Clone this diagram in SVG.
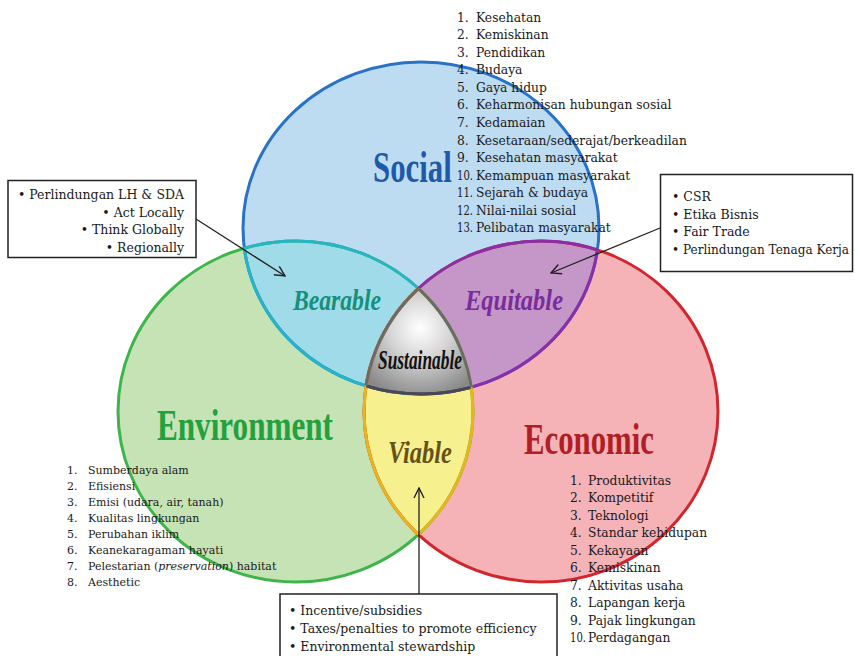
<svg xmlns="http://www.w3.org/2000/svg" width="855" height="656" viewBox="0 0 855 656">
<style>
.lst{font-family:"DejaVu Serif","Liberation Serif",serif;font-size:12.3px;fill:#1a1a1a}
.lsm{font-family:"DejaVu Serif","Liberation Serif",serif;font-size:11px;fill:#1a1a1a}
.bx{font-family:"DejaVu Serif","Liberation Serif",serif;font-size:12.5px;fill:#1a1a1a}
.box{fill:#fff;stroke:#222;stroke-width:1.5}
.big{font-family:"Liberation Serif",serif;font-weight:bold}
.lens{font-family:"Liberation Serif",serif;font-weight:bold;font-style:italic}
.con{stroke:#222;stroke-width:1.3;fill:none}
.st{fill:none;stroke-width:3}
</style>
<defs>
<clipPath id="cS"><ellipse cx="421" cy="228" rx="178" ry="166"/></clipPath>
<clipPath id="cE"><ellipse cx="295.5" cy="411.5" rx="177.5" ry="170.5"/></clipPath>
<clipPath id="cC"><ellipse cx="541" cy="411.5" rx="177" ry="170.5"/></clipPath>
<radialGradient id="gray" cx="420" cy="328" r="72" gradientUnits="userSpaceOnUse">
<stop offset="0" stop-color="#ffffff"/><stop offset="0.4" stop-color="#d8d8d8"/><stop offset="1" stop-color="#888888"/>
</radialGradient>
<marker id="arr" viewBox="0 0 12 12" refX="11" refY="6" markerWidth="12" markerHeight="12" markerUnits="userSpaceOnUse" orient="auto">
<path d="M1,1 L11,6 L1,11" fill="none" stroke="#222" stroke-width="1.4"/>
</marker>
<ellipse id="eS" cx="421" cy="228" rx="178" ry="166"/>
<ellipse id="eE" cx="295.5" cy="411.5" rx="177.5" ry="170.5"/>
<ellipse id="eC" cx="541" cy="411.5" rx="177" ry="170.5"/>
</defs>
<rect width="855" height="656" fill="#ffffff"/>

<g id="social">
<use href="#eS" fill="#bddcf2"/>
</g>
<g id="environment">
<use href="#eE" fill="#c5e3b5"/>
</g>
<g id="economic">
<use href="#eC" fill="#f5b3b8"/>
</g>
<g id="bearable">
<use href="#eE" fill="#9fdbe8" clip-path="url(#cS)"/>
</g>
<g id="equitable">
<use href="#eC" fill="#c597c9" clip-path="url(#cS)"/>
</g>
<g id="viable">
<use href="#eC" fill="#f7f08e" clip-path="url(#cE)"/>
</g>
<g id="sustainable">
<g clip-path="url(#cS)"><g clip-path="url(#cE)"><use href="#eC" fill="url(#gray)"/></g></g>
</g>

<g id="outlines">
<use href="#eS" class="st" stroke="#2a72c8"/>
<use href="#eE" class="st" stroke="#3db54a"/>
<use href="#eC" class="st" stroke="#d3262c"/>
<use href="#eE" class="st" stroke="#27b5c6" clip-path="url(#cS)"/>
<use href="#eS" class="st" stroke="#27b5c6" clip-path="url(#cE)"/>
<use href="#eC" class="st" stroke="#8b2fa8" clip-path="url(#cS)"/>
<use href="#eS" class="st" stroke="#8b2fa8" clip-path="url(#cC)"/>
<use href="#eE" class="st" stroke="#e7b51c" clip-path="url(#cC)"/>
<use href="#eC" class="st" stroke="#e7b51c" clip-path="url(#cE)"/>
<g clip-path="url(#cE)"><use href="#eS" class="st" stroke="#4a4a4a" clip-path="url(#cC)"/></g>
<g clip-path="url(#cS)"><use href="#eE" class="st" stroke="#6a6a6a" stroke-width="2" clip-path="url(#cC)"/></g>
<g clip-path="url(#cS)"><use href="#eC" class="st" stroke="#6a6a6a" stroke-width="2" clip-path="url(#cE)"/></g>
</g>

<g id="labels">
<text class="big" transform="translate(373,182) scale(0.685,1)" font-size="45" fill="#1f5aa8">Social</text>
<text class="big" x="157" y="440" font-size="44" fill="#22a13d" textLength="176" lengthAdjust="spacingAndGlyphs">Environment</text>
<text class="big" x="524" y="454" font-size="44" fill="#b01f26" textLength="130" lengthAdjust="spacingAndGlyphs">Economic</text>
<text class="lens" x="293" y="310" font-size="30" fill="#15907a" textLength="88" lengthAdjust="spacingAndGlyphs">Bearable</text>
<text class="lens" x="465" y="310" font-size="30" fill="#7b2c9c" textLength="98" lengthAdjust="spacingAndGlyphs">Equitable</text>
<text class="lens" x="378" y="369" font-size="28" fill="#111" textLength="84" lengthAdjust="spacingAndGlyphs">Sustainable</text>
<text class="lens" x="388" y="463" font-size="32" fill="#65521a" textLength="64" lengthAdjust="spacingAndGlyphs">Viable</text>
</g>

<g id="social-list" class="lst">
<text x="457" y="21.5">1.<tspan x="476">Kesehatan</tspan></text>
<text x="457" y="39">2.<tspan x="476">Kemiskinan</tspan></text>
<text x="457" y="56.7">3.<tspan x="476">Pendidikan</tspan></text>
<text x="457" y="74.2">4.<tspan x="476">Budaya</tspan></text>
<text x="457" y="91.8">5.<tspan x="476">Gaya hidup</tspan></text>
<text x="457" y="109.4">6.<tspan x="476">Keharmonisan hubungan sosial</tspan></text>
<text x="457" y="127">7.<tspan x="476">Kedamaian</tspan></text>
<text x="457" y="144.5">8.<tspan x="476">Kesetaraan/sederajat/berkeadilan</tspan></text>
<text x="457" y="162.1">9.<tspan x="476">Kesehatan masyarakat</tspan></text>
<text x="457" y="179.7" textLength="16" lengthAdjust="spacingAndGlyphs">10.</text><text x="476" y="179.7">Kemampuan masyarakat</text>
<text x="457" y="197.3" textLength="16" lengthAdjust="spacingAndGlyphs">11.</text><text x="476" y="197.3">Sejarah &amp; budaya</text>
<text x="457" y="214.8" textLength="16" lengthAdjust="spacingAndGlyphs">12.</text><text x="476" y="214.8">Nilai-nilai sosial</text>
<text x="457" y="232.4" textLength="16" lengthAdjust="spacingAndGlyphs">13.</text><text x="476" y="232.4">Pelibatan masyarakat</text>
</g>

<g id="environment-list" class="lsm">
<text x="67" y="474">1.<tspan x="88">Sumberdaya alam</tspan></text>
<text x="67" y="490">2.<tspan x="88">Efisiensi</tspan></text>
<text x="67" y="506">3.<tspan x="88">Emisi (udara, air, tanah)</tspan></text>
<text x="67" y="522">4.<tspan x="88">Kualitas lingkungan</tspan></text>
<text x="67" y="538">5.<tspan x="88">Perubahan iklim</tspan></text>
<text x="67" y="553.5">6.<tspan x="88">Keanekaragaman hayati</tspan></text>
<text x="67" y="569.5">7.<tspan x="88">Pelestarian (<tspan font-style="italic">preservation</tspan>) habitat</tspan></text>
<text x="67" y="585.5">8.<tspan x="88">Aesthetic</tspan></text>
</g>

<g id="economic-list" class="lst">
<text x="570" y="484.5">1.<tspan x="588">Produktivitas</tspan></text>
<text x="570" y="502">2.<tspan x="588">Kompetitif</tspan></text>
<text x="570" y="519.5">3.<tspan x="588">Teknologi</tspan></text>
<text x="570" y="537">4.<tspan x="588">Standar kehidupan</tspan></text>
<text x="570" y="554.5">5.<tspan x="588">Kekayaan</tspan></text>
<text x="570" y="572">6.<tspan x="588">Kemiskinan</tspan></text>
<text x="570" y="589.5">7.<tspan x="588">Aktivitas usaha</tspan></text>
<text x="570" y="607">8.<tspan x="588">Lapangan kerja</tspan></text>
<text x="570" y="624.5">9.<tspan x="588">Pajak lingkungan</tspan></text>
<text x="570" y="642" textLength="16" lengthAdjust="spacingAndGlyphs">10.</text><text x="588" y="642">Perdagangan</text>
</g>

<g id="connectors">
<line class="con" x1="196" y1="219" x2="285" y2="276" marker-end="url(#arr)"/>
<line class="con" x1="660" y1="228" x2="551" y2="273" marker-end="url(#arr)"/>
<line class="con" x1="419" y1="594" x2="419" y2="488" marker-end="url(#arr)"/>
</g>

<g id="box-bearable">
<rect class="box" x="8" y="180.5" width="188" height="77"/>
<g class="bx" text-anchor="end">
<text x="184" y="199">• Perlindungan LH &amp; SDA</text>
<text x="184" y="216.5">• Act Locally</text>
<text x="184" y="234">• Think Globally</text>
<text x="184" y="251.5">• Regionally</text>
</g>
</g>

<g id="box-equitable">
<rect class="box" x="660.5" y="174.5" width="192" height="97"/>
<g class="bx">
<text x="672" y="201">• CSR</text>
<text x="672" y="218.5">• Etika Bisnis</text>
<text x="672" y="236">• Fair Trade</text>
<text x="672" y="253.5" textLength="177" lengthAdjust="spacingAndGlyphs">• Perlindungan Tenaga Kerja</text>
</g>
</g>

<g id="box-viable">
<rect class="box" x="280" y="594" width="277" height="75"/>
<g class="bx">
<text x="289" y="615">• Incentive/subsidies</text>
<text x="289" y="633">• Taxes/penalties to promote efficiency</text>
<text x="289" y="650.5">• Environmental stewardship</text>
</g>
</g>
</svg>
